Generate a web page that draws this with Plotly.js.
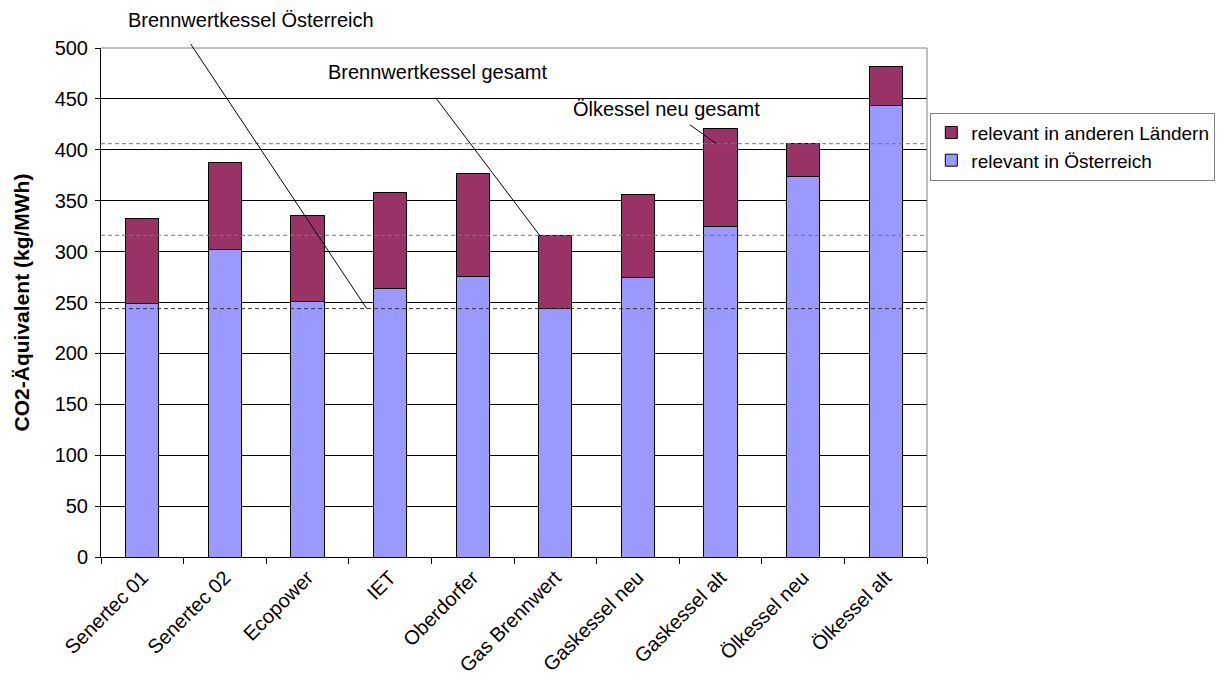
<!DOCTYPE html>
<html>
<head>
<meta charset="utf-8">
<script src="https://cdn.plot.ly/plotly-3.0.1.min.js"></script>
<style>html,body{margin:0;padding:0;background:#fff;}#chart{width:1227px;height:686px;}</style>
</head>
<body>
<div id="chart"></div>
<script>
const categories = ["Senertec 01","Senertec 02","Ecopower","IET","Oberdorfer","Gas Brennwert","Gaskessel neu","Gaskessel alt","Ölkessel neu","Ölkessel alt"];
const oesterreich = [249, 302, 251, 264, 276, 244, 275, 325, 374, 444];
const andereLaender = [84, 86, 84, 94, 101, 72, 81, 96, 32, 38];
const seriesNames = ["relevant in Österreich", "relevant in anderen Ländern"];
const refLabels = ["Brennwertkessel Österreich", "Brennwertkessel gesamt", "Ölkessel neu gesamt"];

const totals = oesterreich.map((v, i) => v + andereLaender[i]);
const gbIdx = categories.indexOf("Gas Brennwert");
const onIdx = categories.indexOf("Ölkessel neu");
const refValues = [oesterreich[gbIdx], totals[gbIdx], totals[onIdx]];

const font = "Liberation Sans, Arial, sans-serif";
const fs = 20;

const traces = [
  {type: "bar", name: seriesNames[0], x: categories, y: oesterreich,
   marker: {color: "#9999FF", line: {color: "#000000", width: 1}}, width: 0.4, hoverinfo: "y"},
  {type: "bar", name: seriesNames[1], x: categories, y: andereLaender,
   marker: {color: "#993366", line: {color: "#000000", width: 1}}, width: 0.4, hoverinfo: "y"}
];

const shapes = [
  {type: "line", xref: "paper", x0: 0, x1: 1, yref: "y", y0: refValues[0], y1: refValues[0], line: {color: "#333333", width: 1, dash: "4px,3px"}, layer: "above"},
  {type: "line", xref: "paper", x0: 0, x1: 1, yref: "y", y0: refValues[1], y1: refValues[1], line: {color: "#777777", width: 1, dash: "4px,3px"}, layer: "above"},
  {type: "line", xref: "paper", x0: 0, x1: 1, yref: "y", y0: refValues[2], y1: refValues[2], line: {color: "#777777", width: 1, dash: "4px,3px"}, layer: "above"},
  {type: "line", xref: "paper", x0: 0, x1: 1, yref: "paper", y0: 1, y1: 1, line: {color: "#808080", width: 1}, layer: "above"},
  {type: "line", xref: "paper", x0: 1, x1: 1, yref: "paper", y0: 0, y1: 1, line: {color: "#808080", width: 1}, layer: "above"}
];

const txt = {family: font, size: fs, color: "#000"};
const annotations = [
  {xref: "paper", yref: "paper", x: 0.181, y: 1.055, xanchor: "center", yanchor: "middle", text: refLabels[0], showarrow: false, font: txt},
  {xref: "paper", yref: "paper", x: 0.407, y: 0.953, xanchor: "center", yanchor: "middle", text: refLabels[1], showarrow: false, font: txt},
  {xref: "paper", yref: "paper", x: 0.685, y: 0.88, xanchor: "center", yanchor: "middle", text: refLabels[2], showarrow: false, font: txt},
  {xref: "x", yref: "y", x: 2.717, y: refValues[0], ax: -177, ay: -266, text: "", showarrow: true, arrowhead: 0, arrowwidth: 1, arrowcolor: "#000"},
  {xref: "x", yref: "y", x: 4.81, y: refValues[1], ax: -105, ay: -139, text: "", showarrow: true, arrowhead: 0, arrowwidth: 1, arrowcolor: "#000"},
  {xref: "x", yref: "y", x: 6.95, y: refValues[2], ax: -28, ay: -20, text: "", showarrow: true, arrowhead: 0, arrowwidth: 1, arrowcolor: "#000"}
];

const layout = {
  width: 1227, height: 686,
  margin: {l: 101, r: 296, t: 48, b: 129, pad: 0},
  paper_bgcolor: "#ffffff", plot_bgcolor: "#ffffff",
  font: txt,
  barmode: "stack",
  showlegend: true,
  legend: {x: 1.004, xanchor: "left", y: 0.873, yanchor: "top", traceorder: "reversed",
           bordercolor: "#808080", borderwidth: 1, font: {family: font, size: 19, color: "#000"},
           itemwidth: 30, tracegroupgap: 0, bgcolor: "#fff"},
  xaxis: {type: "category", tickson: "boundaries", ticks: "outside", ticklen: 6, tickcolor: "#000",
          showline: true, linecolor: "#000", linewidth: 1, tickangle: -45, showgrid: false,
          tickfont: txt, range: [-0.5, 9.5]},
  yaxis: {range: [0, 500], dtick: 50, ticks: "outside", ticklen: 5, tickcolor: "#000",
          showline: true, linecolor: "#000", linewidth: 1, showgrid: true, gridcolor: "#000", gridwidth: 1,
          zeroline: false, tickfont: txt, ticklabelstandoff: 3,
          title: {text: "<b>CO2-Äquivalent (kg/MWh)</b>", font: {family: font, size: 21, color: "#000"}, standoff: 19}},
  shapes: shapes,
  annotations: annotations
};

Plotly.newPlot("chart", traces, layout, {displayModeBar: false, staticPlot: true});
</script>
</body>
</html>
